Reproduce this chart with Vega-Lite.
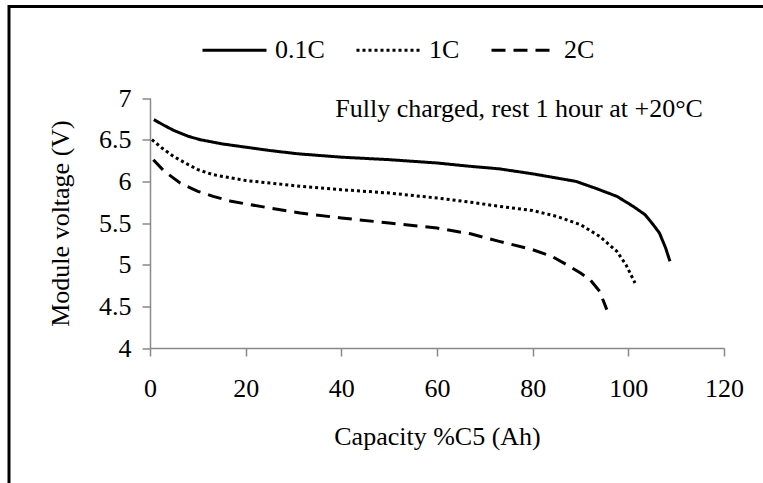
{
  "$schema": "https://vega.github.io/schema/vega-lite/v6.json",
  "width": 760,
  "height": 480,
  "autosize": {"type": "none"},
  "padding": {"left": 9, "top": 6.5, "right": 0, "bottom": 0},
  "background": "white",
  "config": {
    "view": {"stroke": "black", "strokeWidth": 3},
    "font": "Liberation Serif",
    "axis": {
      "domainColor": "#898989", "domainWidth": 1.5,
      "tickColor": "#898989", "tickWidth": 1.5, "tickSize": 8,
      "labelFont": "Liberation Serif", "labelFontSize": 26, "labelColor": "black",
      "titleFont": "Liberation Serif", "titleFontSize": 26, "titleFontWeight": "normal", "titleColor": "black",
      "grid": false, "labelFlush": false, "labelOverlap": false, "labelBound": false
    }
  },
  "layer": [
    {
      "data": {
        "values": [
          {"series": "0.1C", "x": 0.8, "y": 6.74},
          {"series": "0.1C", "x": 3, "y": 6.67},
          {"series": "0.1C", "x": 5, "y": 6.61},
          {"series": "0.1C", "x": 8, "y": 6.54},
          {"series": "0.1C", "x": 10.5, "y": 6.5},
          {"series": "0.1C", "x": 15, "y": 6.45},
          {"series": "0.1C", "x": 20, "y": 6.41},
          {"series": "0.1C", "x": 25, "y": 6.37},
          {"series": "0.1C", "x": 31, "y": 6.33},
          {"series": "0.1C", "x": 40, "y": 6.29},
          {"series": "0.1C", "x": 50, "y": 6.26},
          {"series": "0.1C", "x": 60, "y": 6.22},
          {"series": "0.1C", "x": 67, "y": 6.18},
          {"series": "0.1C", "x": 73, "y": 6.15},
          {"series": "0.1C", "x": 80, "y": 6.09},
          {"series": "0.1C", "x": 85, "y": 6.04},
          {"series": "0.1C", "x": 89, "y": 6.0},
          {"series": "0.1C", "x": 93, "y": 5.92},
          {"series": "0.1C", "x": 97.6, "y": 5.82},
          {"series": "0.1C", "x": 101, "y": 5.7},
          {"series": "0.1C", "x": 103.5, "y": 5.6},
          {"series": "0.1C", "x": 105.2, "y": 5.48},
          {"series": "0.1C", "x": 106.5, "y": 5.38},
          {"series": "0.1C", "x": 107.8, "y": 5.2},
          {"series": "0.1C", "x": 108.7, "y": 5.04},
          {"series": "1C", "x": 0.4, "y": 6.5},
          {"series": "1C", "x": 2.5, "y": 6.4},
          {"series": "1C", "x": 4.9, "y": 6.3},
          {"series": "1C", "x": 8, "y": 6.2},
          {"series": "1C", "x": 10, "y": 6.14},
          {"series": "1C", "x": 13.2, "y": 6.08},
          {"series": "1C", "x": 17, "y": 6.04},
          {"series": "1C", "x": 20, "y": 6.01},
          {"series": "1C", "x": 25, "y": 5.98},
          {"series": "1C", "x": 31.4, "y": 5.94},
          {"series": "1C", "x": 40, "y": 5.9},
          {"series": "1C", "x": 50, "y": 5.86},
          {"series": "1C", "x": 60, "y": 5.8},
          {"series": "1C", "x": 67, "y": 5.75},
          {"series": "1C", "x": 73, "y": 5.7},
          {"series": "1C", "x": 80, "y": 5.65},
          {"series": "1C", "x": 85, "y": 5.58},
          {"series": "1C", "x": 90, "y": 5.48},
          {"series": "1C", "x": 94, "y": 5.34},
          {"series": "1C", "x": 97.6, "y": 5.16},
          {"series": "1C", "x": 99.5, "y": 5.0},
          {"series": "1C", "x": 101.4, "y": 4.78},
          {"series": "2C", "x": 0.7, "y": 6.26},
          {"series": "2C", "x": 3, "y": 6.12},
          {"series": "2C", "x": 6.3, "y": 5.98},
          {"series": "2C", "x": 10, "y": 5.88},
          {"series": "2C", "x": 13.2, "y": 5.82},
          {"series": "2C", "x": 17, "y": 5.76},
          {"series": "2C", "x": 20, "y": 5.73},
          {"series": "2C", "x": 25, "y": 5.68},
          {"series": "2C", "x": 31.4, "y": 5.62},
          {"series": "2C", "x": 40, "y": 5.56},
          {"series": "2C", "x": 50, "y": 5.5},
          {"series": "2C", "x": 60, "y": 5.44},
          {"series": "2C", "x": 67, "y": 5.37},
          {"series": "2C", "x": 73, "y": 5.28},
          {"series": "2C", "x": 80, "y": 5.18},
          {"series": "2C", "x": 84, "y": 5.1},
          {"series": "2C", "x": 87.1, "y": 5.0},
          {"series": "2C", "x": 90, "y": 4.9},
          {"series": "2C", "x": 92, "y": 4.82},
          {"series": "2C", "x": 94, "y": 4.68},
          {"series": "2C", "x": 95.5, "y": 4.46}
        ]
      },
      "mark": {"type": "line", "color": "black", "strokeWidth": 3},
      "encoding": {
        "x": {
          "field": "x", "type": "quantitative",
          "scale": {"domain": [0, 120], "range": [141, 715], "nice": false, "zero": false},
          "axis": {
            "values": [0, 20, 40, 60, 80, 100, 120], "format": "~g",
            "offset": -138.5, "labelPadding": 19,
            "title": "Capacity %C5 (Ah)", "titleY": 96, "titleBaseline": "alphabetic"
          }
        },
        "y": {
          "field": "y", "type": "quantitative",
          "scale": {"domain": [4, 7], "range": [341.5, 91.5], "nice": false, "zero": false},
          "axis": {
            "values": [4, 4.5, 5, 5.5, 6, 6.5, 7], "format": "~g",
            "offset": -141, "labelPadding": 11,
            "title": "Module voltage (V)", "titleX": -90, "titleY": 216.5, "titleBaseline": "middle", "titleAngle": -90
          }
        },
        "strokeDash": {
          "field": "series", "type": "nominal",
          "scale": {"domain": ["0.1C", "1C", "2C"], "range": [[1, 0], [3, 3], [14, 8]]},
          "legend": {
            "orient": "none", "legendX": 192, "legendY": 10, "direction": "horizontal",
            "title": null, "padding": 0,
            "symbolType": "stroke", "symbolSize": 4096, "symbolStrokeWidth": 3,
            "symbolStrokeColor": "black",
            "labelFont": "Liberation Serif", "labelFontSize": 26, "labelColor": "black",
            "labelOffset": 7, "columnPadding": 25
          }
        }
      }
    },
    {
      "data": {"values": [{"x": 115.6, "y": 6.77, "label": "Fully charged, rest 1 hour at +20°C"}]},
      "mark": {"type": "text", "align": "right", "baseline": "alphabetic", "font": "Liberation Serif", "fontSize": 26, "color": "black"},
      "encoding": {
        "x": {"field": "x", "type": "quantitative"},
        "y": {"field": "y", "type": "quantitative"},
        "text": {"field": "label"}
      }
    }
  ]
}
